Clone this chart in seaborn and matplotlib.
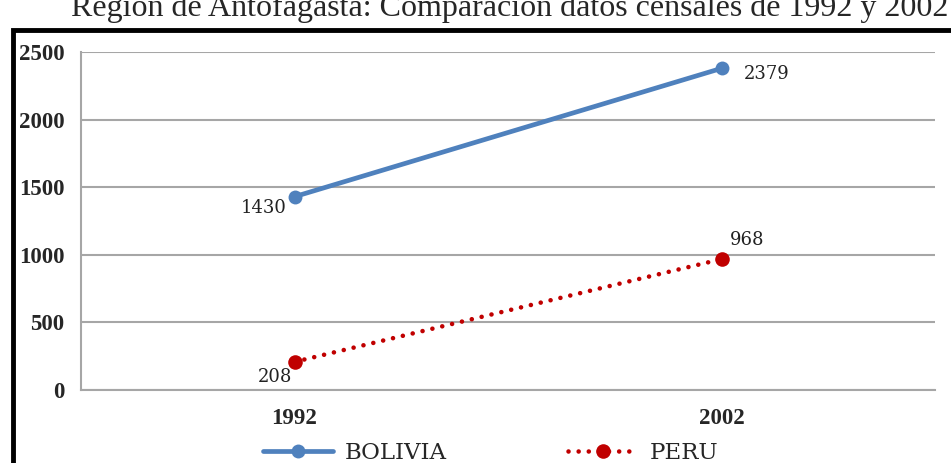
import matplotlib
matplotlib.use("Agg")
import matplotlib.pyplot as plt
from matplotlib.patches import Rectangle
from matplotlib.lines import Line2D
import seaborn as sns
import numpy as np

years = ["1992", "2002"]
bolivia = [1430, 2379]
peru = [208, 968]
title = "Región de Antofagasta: Comparación datos censales de 1992 y 2002"

sns.set_style("white")
plt.rcParams["font.family"] = ["Liberation Serif", "DejaVu Serif"]

W, H = 951, 463
fig = plt.figure(figsize=(W / 100, H / 100), dpi=100)
ax = fig.add_axes([81 / W, 1 - 390 / H, (935 - 81) / W, (390 - 52) / H])

xpos = np.arange(len(years))
blue = "#4F81BD"
red = "#C00000"
grid_c = "#A6A6A6"
dots = (0, (0.01, 2.2))

sns.lineplot(x=xpos, y=bolivia, ax=ax, color=blue, lw=3.4, marker="o",
             markersize=10, markeredgewidth=0, label="BOLIVIA")
sns.lineplot(x=xpos, y=peru, ax=ax, color=red, lw=3.3, marker="o",
             markersize=10.5, markeredgewidth=0, label="PERU")
ax.lines[1].set_linestyle(dots)
ax.lines[1].set_dash_capstyle("round")

ax.set_xlim(-0.5, 1.5)
ax.set_ylim(0, 2500)
ax.set_yticks(np.arange(0, 2501, 500))
ax.yaxis.grid(True, color=grid_c, lw=1.5)
ax.set_axisbelow(True)
ax.set_xticks(xpos)
ax.set_xticklabels(years, fontsize=16.5, fontweight="bold")
ax.set_xticks([-0.5, 0.5, 1.5], minor=True)
ax.tick_params(axis="x", which="major", length=0, pad=13)
ax.tick_params(axis="x", which="minor", length=7, color=grid_c, width=1.5)
ax.tick_params(axis="y", length=7, color=grid_c, width=1.5, labelsize=16.5, pad=5)
for lbl in ax.get_yticklabels():
    lbl.set_fontweight("bold")
for s in ["top", "right"]:
    ax.spines[s].set_visible(False)
ax.spines["left"].set_color(grid_c)
ax.spines["left"].set_linewidth(1.5)
ax.spines["bottom"].set_color(grid_c)
ax.spines["bottom"].set_linewidth(1.5)
ax.set_xlabel("")
ax.set_ylabel("")

# data labels
lab_kw = dict(fontsize=13, color="#222222", family=["DejaVu Serif"], fontweight="light")
ax.annotate(str(bolivia[0]), (xpos[0], bolivia[0]), xytext=(-6, -8),
            textcoords="offset points", ha="right", va="center", **lab_kw)
ax.annotate(str(bolivia[1]), (xpos[1], bolivia[1]), xytext=(16, -4),
            textcoords="offset points", ha="left", va="center", **lab_kw)
ax.annotate(str(peru[0]), (xpos[0], peru[0]), xytext=(-2, -11),
            textcoords="offset points", ha="right", va="center", **lab_kw)
ax.annotate(str(peru[1]), (xpos[1], peru[1]), xytext=(6, 14),
            textcoords="offset points", ha="left", va="center", **lab_kw)

handles = [
    Line2D([], [], color=blue, lw=3.4, marker="o", markersize=10, markeredgewidth=0),
    Line2D([], [], color=red, lw=3.3, ls=dots, dash_capstyle="round", marker="o",
           markersize=10.5, markeredgewidth=0),
]
ax.legend(handles, ["BOLIVIA", "PERU"], loc="center", bbox_to_anchor=(491 / W, 1 - 453 / H),
          bbox_transform=fig.transFigure, ncol=2, frameon=False, handlelength=3.05,
          handletextpad=0.52, columnspacing=5.3,
          prop={"size": 16.5, "family": "DejaVu Serif", "weight": "light"})

# outer frame and clipped title
fig.patches.append(Rectangle((12.5 / W, -0.2), 1.2, 1 - 30 / H + 0.2, transform=fig.transFigure,
                             fill=False, ec="black", lw=3.5))
fig.text(510 / W, 1 - 16 / H, title, ha="center", va="baseline", fontsize=23)

fig.savefig("out.png", dpi=100)
